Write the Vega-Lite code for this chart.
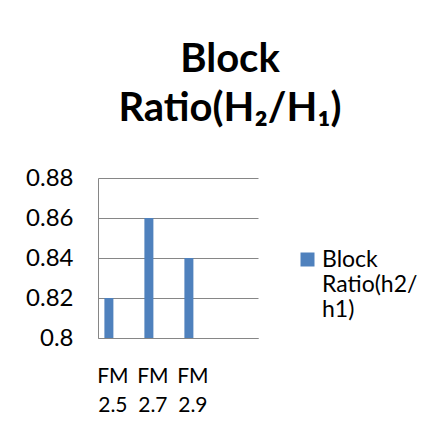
{
  "$schema": "https://vega.github.io/schema/vega-lite/v6.json",
  "width": 160,
  "height": 160,
  "autosize": {"type": "none"},
  "padding": {"left": 98, "top": 178, "right": 181, "bottom": 99},
  "background": "white",
  "title": {
    "text": ["Block", "Ratio(H₂/H₁)"],
    "font": "Lato",
    "fontSize": 40,
    "fontWeight": "bold",
    "lineHeight": 49,
    "anchor": "middle",
    "dx": 52,
    "offset": 37,
    "color": "black"
  },
  "data": {
    "values": [
      {"category": "FM 2.5", "value": 0.82, "series": "Block Ratio(h2/h1)"},
      {"category": "FM 2.7", "value": 0.86, "series": "Block Ratio(h2/h1)"},
      {"category": "FM 2.9", "value": 0.84, "series": "Block Ratio(h2/h1)"}
    ]
  },
  "mark": {"type": "bar"},
  "encoding": {
    "x": {
      "field": "category",
      "type": "nominal",
      "sort": null,
      "scale": {"paddingInner": 0.775, "paddingOuter": 0.8875, "align": 0.09},
      "axis": {
        "title": null,
        "labelAngle": 0,
        "labelExpr": "split(datum.label, ' ')",
        "labelFont": "Lato",
        "labelFontSize": 21,
        "labelLineHeight": 29,
        "labelColor": "black",
        "labelPadding": 27,
        "labelOffset": 4,
        "labelBaseline": "top",
        "ticks": false,
        "domainColor": "#868686"
      }
    },
    "y": {
      "field": "value",
      "type": "quantitative",
      "scale": {"domain": [0.8, 0.88], "zero": false, "nice": false},
      "axis": {
        "title": null,
        "values": [0.8, 0.82, 0.84, 0.86, 0.88],
        "format": ".2~f",
        "labelFont": "Lato",
        "labelFontSize": 24,
        "labelColor": "black",
        "labelPadding": 25,
        "ticks": false,
        "domainColor": "#868686",
        "grid": true,
        "gridColor": "#868686",
        "gridOpacity": 1
      }
    },
    "y2": {"datum": 0.8},
    "color": {
      "field": "series",
      "type": "nominal",
      "scale": {"range": ["#4F81BD"]},
      "legend": {
        "title": null,
        "orient": "none",
        "legendX": 198,
        "legendY": 70,
        "padding": 0,
        "labelExpr": "['Block', 'Ratio(h2/', 'h1)']",
        "labelFont": "Lato",
        "labelFontSize": 23,
        "labelColor": "black",
        "labelOffset": 3,
        "symbolType": "square",
        "symbolSize": 196,
        "symbolStrokeWidth": 0,
        "symbolOpacity": 1
      }
    }
  },
  "config": {
    "view": {"stroke": null}
  }
}
